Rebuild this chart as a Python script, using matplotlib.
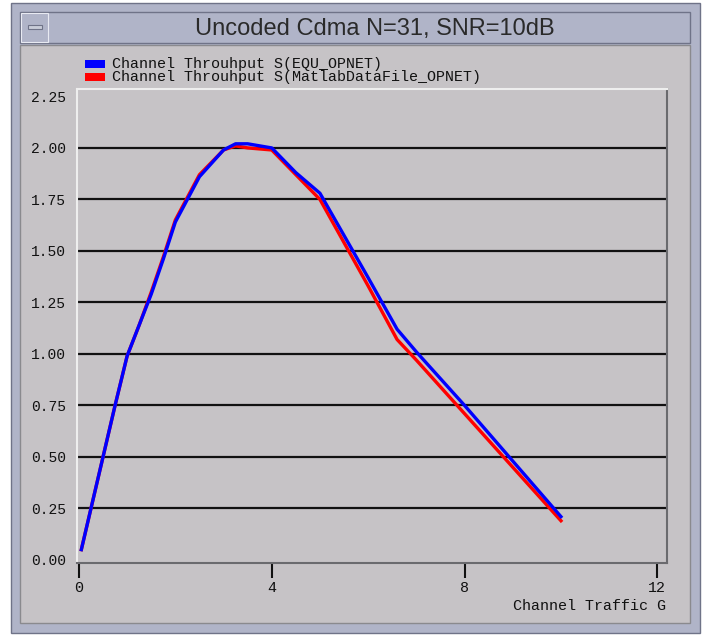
import matplotlib
matplotlib.use("Agg")
import matplotlib.pyplot as plt
from matplotlib.patches import Rectangle

# Channel traffic G and throughput S
g_equ = [0.05, 0.25, 0.5, 0.75, 1.0, 1.25, 1.5, 1.75, 2.0, 2.5, 3.0, 3.25, 3.5, 4.0,
         4.5, 5.0, 6.0, 6.6, 7.0, 8.0, 9.0, 10.0]
s_equ = [0.05, 0.25, 0.50, 0.75, 0.99, 1.14, 1.29, 1.46, 1.64, 1.86, 1.99, 2.02, 2.02, 2.00,
         1.88, 1.78, 1.37, 1.12, 1.01, 0.75, 0.48, 0.21]

g_mat = [0.05, 0.25, 0.5, 0.75, 1.0, 1.25, 1.5, 1.75, 2.0, 2.5, 3.0, 3.25, 3.5, 4.0,
         4.5, 5.0, 6.0, 6.6, 7.0, 8.0, 9.0, 10.0]
s_mat = [0.05, 0.25, 0.50, 0.75, 0.99, 1.14, 1.30, 1.47, 1.65, 1.87, 1.99, 2.01, 2.00, 1.99,
         1.87, 1.75, 1.33, 1.07, 0.97, 0.71, 0.45, 0.19]

y_ticks = [0.0, 0.25, 0.5, 0.75, 1.0, 1.25, 1.5, 1.75, 2.0, 2.25]
x_ticks = [0, 4, 8, 12]
legend_labels = ["Channel Throuhput S(EQU_OPNET)", "Channel Throuhput S(MatlabDataFile_OPNET)"]
title = "Uncoded Cdma N=31, SNR=10dB"

W, H = 711, 639
gray = "#c6c3c6"
frame = "#b0b4c8"
mono = "Liberation Mono"

fig = plt.figure(figsize=(W / 100, H / 100), dpi=100, facecolor="white")

# window chrome drawn in pixel coordinates
bg = fig.add_axes([0, 0, 1, 1])
bg.set_xlim(0, W)
bg.set_ylim(H, 0)
bg.axis("off")

def rect(x, y, w, h, fc, ec="none", lw=0):
    bg.add_patch(Rectangle((x, y), w, h, facecolor=fc, edgecolor=ec, linewidth=lw))

rect(11, 3, 689, 630, frame, "#6f7388", 1.0)
rect(20, 12, 670, 31, frame, "#6f7388", 1.0)
rect(20, 45, 670, 578, gray, "#8a8a8e", 1.0)
# minimize button
rect(21, 13, 27, 29, frame, "#e8eaf2", 0.8)
rect(28, 25, 14, 4, "#c8ccd8", "#6f7388", 0.8)
bg.text(375, 29, title, ha="center", va="center", fontsize=17,
        family="Liberation Sans", color="#2a2a2a")

# legend swatches and labels
for i, (lab, col) in enumerate(zip(legend_labels, ["#0000ff", "#ff0000"])):
    yy = 64 + i * 13
    rect(85, yy - 4, 20, 8, col)
    bg.text(112, yy, lab, ha="left", va="center", fontsize=10.8, family=mono,
            color="#111111")

bg.text(666, 606, "Channel Traffic G", ha="right", va="center", fontsize=10.8,
        family=mono, color="#111111")

# plot area
ax = fig.add_axes([77 / W, 76 / H, 590 / W, 474 / H])
ax.set_facecolor(gray)
ax.set_xlim(-0.04, 12.2)
ax.set_ylim(-0.015, 2.286)

for y in y_ticks[1:-1]:
    ax.axhline(y, color="#111111", lw=1.6, zorder=1)

ax.plot(g_mat, s_mat, color="#ff0000", lw=2.4, zorder=3, solid_joinstyle="round")
ax.plot(g_equ, s_equ, color="#0000ff", lw=2.4, zorder=4, solid_joinstyle="round")

ax.spines["left"].set_color("#eeeeee")
ax.spines["top"].set_color("#eeeeee")
ax.spines["right"].set_color("#6a6a6e")
ax.spines["bottom"].set_color("#6a6a6e")
for s in ax.spines.values():
    s.set_linewidth(1.5)

ax.set_yticks(y_ticks)
ax.set_yticklabels(["%.2f" % v for v in y_ticks], family=mono, fontsize=10.5)
ax.tick_params(axis="y", length=0, pad=8, colors="#111111")
ax.set_xticks(x_ticks)
ax.set_xticklabels([str(v) for v in x_ticks], family=mono, fontsize=10.8)
ax.tick_params(axis="x", direction="out", length=11, width=1.5, pad=2, colors="#111111")

fig.savefig("out.png", dpi=100, facecolor="white")
